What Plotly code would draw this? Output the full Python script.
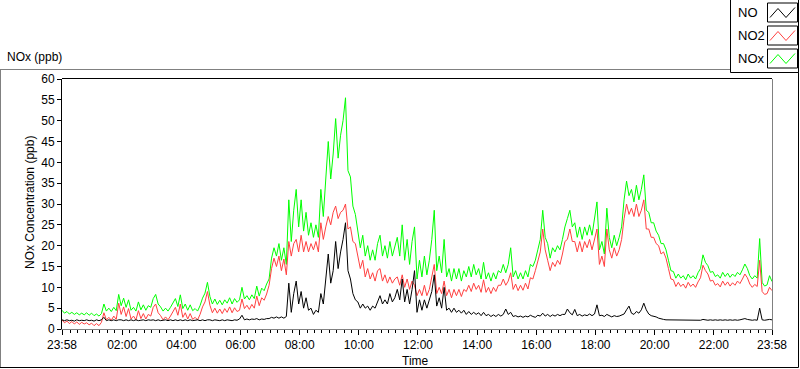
import pandas as pd
import plotly.graph_objects as go

# ---- data (5-minute samples starting at 23:58) ----
start_time = "2023-01-01 23:58"
n_points = 289

nox_ppb = [
    4.5, 3.8, 4.2, 3.6, 4.0, 3.5, 3.9, 3.4, 3.8, 3.4, 3.9, 3.3,
    3.8, 3.2, 3.6, 3.1, 3.7, 6.0, 4.3, 5.0, 4.2, 5.2, 4.4, 8.3,
    5.6, 7.4, 5.2, 7.0, 4.5, 5.2, 4.3, 6.5, 4.6, 5.8, 4.5, 5.6,
    5.2, 7.3, 8.3, 6.0, 5.3, 4.3, 5.0, 4.3, 5.2, 6.3, 7.3, 5.4,
    8.2, 4.9, 6.0, 4.5, 5.8, 4.4, 4.9, 4.3, 5.6, 7.4, 8.6, 11.2,
    7.8, 6.0, 7.2, 5.9, 6.9, 5.8, 7.0, 6.2, 7.5, 6.0, 7.3, 6.4,
    7.0, 10.0, 7.2, 8.0, 7.0, 8.2, 7.3, 10.3, 7.9, 9.8, 9.2, 10.8,
    12.0, 17.0, 19.5, 17.5, 20.5, 16.5, 19.5, 15.5, 31.0, 21.0, 28.5, 33.5,
    24.5, 31.0, 23.5, 28.0, 22.5, 25.5, 22.0, 25.0, 22.0, 33.5, 27.0, 36.0,
    45.0, 36.0, 42.0, 50.5, 41.0, 46.5, 50.0, 55.5, 38.0, 36.5, 29.5, 27.5,
    23.0, 19.5, 22.5, 17.5, 20.0, 16.5, 19.0, 16.5, 20.5, 22.5, 17.5, 20.0,
    17.0, 21.0, 17.5, 19.5, 22.0, 17.5, 25.0, 16.5, 21.5, 15.5, 21.0, 24.5,
    12.0, 16.5, 12.5, 17.5, 13.0, 16.5, 21.5, 28.5, 14.0, 17.5, 13.5, 21.5,
    12.5, 14.5, 11.5, 14.5, 12.0, 14.5, 11.5, 14.0, 12.5, 15.0, 12.5, 15.5,
    13.0, 14.5, 12.0, 16.0, 12.0, 13.5, 11.5, 13.5, 12.0, 14.0, 13.5, 15.5,
    13.5, 15.5, 19.5, 12.5, 14.0, 12.0, 13.5, 12.0, 14.0, 12.5, 15.5, 15.0,
    16.5, 19.0, 21.5, 28.5, 22.0, 20.5, 17.0, 19.5, 18.5, 20.0, 19.0, 21.5,
    24.5, 26.5, 28.5, 24.5, 25.5, 22.0, 24.5, 21.5, 24.5, 22.5, 25.0, 22.5,
    26.5, 30.5, 19.0, 21.0, 18.0, 29.0, 22.0, 19.5, 22.5, 20.0, 22.0, 24.5,
    31.0, 35.5, 32.0, 33.5, 30.5, 34.5, 31.0, 33.5, 37.0, 28.5, 28.0, 25.5,
    25.5, 23.5, 22.5, 20.5, 20.5, 19.0, 16.5, 14.0, 13.8, 12.2, 13.2, 12.2,
    12.8, 11.8, 13.2, 12.2, 12.8, 12.0, 13.5, 14.5, 17.8, 16.0, 15.2, 13.6,
    13.8, 12.6, 13.0, 12.2, 13.6, 12.6, 13.4, 12.4, 13.2, 12.6, 13.6, 13.0,
    14.2, 15.6, 14.5, 12.8, 12.0, 12.8, 12.2, 21.7, 11.2, 10.3, 10.6, 12.8,
    11.4,
]

no2_ppb = [
    2.2, 1.5, 1.9, 1.3, 1.8, 1.2, 1.7, 1.1, 1.6, 1.2, 1.5, 1.0,
    1.4, 0.8, 1.3, 0.8, 1.6, 3.9, 2.2, 2.8, 2.1, 3.1, 2.3, 6.2,
    3.5, 5.3, 3.0, 4.9, 2.4, 3.1, 2.2, 4.4, 2.5, 3.7, 2.4, 3.5,
    3.1, 5.2, 6.0, 3.9, 3.2, 2.2, 2.9, 2.2, 3.1, 4.2, 5.2, 3.3,
    6.0, 2.8, 3.9, 2.4, 3.7, 2.3, 2.8, 2.2, 3.5, 5.3, 6.5, 9.0,
    5.7, 3.9, 5.0, 3.8, 4.8, 3.7, 4.9, 4.0, 5.3, 3.9, 5.1, 4.2,
    4.5, 7.2, 4.9, 5.7, 4.7, 5.9, 5.0, 7.9, 5.6, 7.5, 6.9, 8.4,
    10.5, 14.5, 17.0, 15.0, 17.5, 14.0, 16.8, 13.0, 21.0, 17.5, 20.5, 21.5,
    18.5, 22.5, 18.5, 21.0, 18.5, 20.5, 19.0, 21.0, 18.5, 25.5, 21.5, 24.5,
    27.0, 25.0, 28.0, 29.5, 26.5, 28.0, 28.5, 30.0, 24.0, 24.5, 21.0, 20.5,
    17.0, 14.5, 16.5, 12.5, 14.5, 12.0, 13.5, 11.5, 14.0, 14.5, 11.5, 13.0,
    11.0, 12.5, 11.0, 12.0, 12.5, 10.5, 13.0, 10.0, 12.0, 9.5, 11.5, 10.5,
    8.0, 9.5, 8.0, 10.5, 8.0, 9.5, 12.5, 15.5, 8.5, 10.0, 8.5, 11.5,
    8.0, 9.5, 7.5, 9.5, 8.0, 9.5, 7.8, 9.5, 9.0, 10.5, 9.0, 11.0,
    9.5, 10.5, 8.8, 11.8, 8.8, 10.0, 8.5, 10.0, 9.0, 10.5, 10.5, 12.0,
    10.5, 11.5, 13.5, 9.5, 10.8, 9.2, 10.5, 9.3, 11.0, 9.6, 12.3, 12.0,
    14.0, 16.5, 18.5, 24.0, 19.0, 16.5, 14.0, 16.0, 15.0, 16.5, 15.5, 18.0,
    21.0, 21.5, 24.0, 21.0, 21.0, 18.5, 21.0, 18.5, 21.0, 19.5, 21.5, 19.0,
    21.5, 24.0, 15.5, 17.5, 15.0, 24.0, 19.0, 17.0, 19.5, 17.5, 19.0, 21.5,
    26.5, 30.0, 27.5, 29.0, 27.0, 30.0, 27.0, 28.5, 31.0, 24.0, 24.0, 22.0,
    22.0, 20.5, 20.0, 18.0, 18.5, 17.0, 14.5, 12.0, 11.8, 10.2, 11.2, 10.2,
    10.8, 9.8, 11.2, 10.2, 10.8, 10.0, 11.3, 12.3, 15.3, 14.0, 13.2, 11.5,
    11.7, 10.5, 10.9, 10.1, 11.5, 10.5, 11.3, 10.3, 11.1, 10.5, 11.5, 10.9,
    12.0, 13.2, 12.3, 10.8, 10.0, 10.7, 10.2, 16.5, 9.0, 8.3, 8.5, 10.0,
    9.2,
]

no_ppb = [
    2.2, 2.0, 2.2, 2.0, 2.1, 1.9, 2.2, 2.0, 2.1, 2.0, 2.2, 2.0,
    2.1, 1.9, 2.2, 2.0, 2.2, 2.8, 2.0, 2.2, 2.0, 2.2, 2.0, 2.2,
    2.2, 2.0, 2.2, 2.0, 2.2, 2.0, 2.2, 2.0, 2.1, 2.2, 2.0, 2.2,
    2.1, 2.2, 2.0, 2.2, 2.0, 2.1, 2.2, 2.0, 2.2, 2.0, 2.2, 2.0,
    2.2, 2.0, 2.2, 2.0, 2.2, 2.0, 2.1, 2.2, 2.0, 2.2, 2.0, 2.2,
    2.2, 2.0, 2.2, 2.1, 2.0, 2.2, 2.0, 2.2, 2.1, 2.0, 2.2, 2.1,
    2.4, 3.3, 2.2, 2.4, 2.2, 2.4, 2.3, 2.5, 2.2, 2.4, 2.3, 2.5,
    2.5, 2.8, 2.6, 2.9, 2.6, 2.9, 2.6, 3.0, 11.0, 4.0, 8.5, 11.5,
    6.0, 9.0, 5.0, 7.5, 4.5, 5.0, 3.5, 4.5, 4.0, 8.5, 6.0, 11.5,
    18.0, 11.0, 14.0, 21.0, 14.5, 18.5, 21.5, 25.5, 14.0, 12.0, 8.5, 7.0,
    6.5, 5.0, 6.0, 5.0, 5.5, 4.5, 5.5, 5.0, 6.5, 8.0, 6.0, 7.0,
    6.0, 8.5, 6.5, 7.5, 9.5, 7.0, 12.0, 6.5, 9.5, 6.0, 9.5, 14.0,
    4.0, 7.0, 4.5, 7.0, 5.0, 7.0, 9.0, 13.0, 5.5, 7.5, 5.0, 10.0,
    4.5, 5.0, 4.0, 5.0, 4.0, 4.5, 3.8, 4.5, 3.5, 4.2, 3.5, 4.0,
    3.5, 3.9, 3.2, 4.0, 3.2, 3.5, 3.0, 3.4, 3.0, 3.5, 3.1, 3.5,
    4.8, 3.5, 4.0, 3.0, 3.2, 2.9, 3.1, 2.8, 3.1, 2.9, 3.3, 3.0,
    2.8, 3.3, 3.1, 3.8, 3.1, 3.5, 3.0, 3.4, 3.1, 3.5, 3.2, 3.5,
    3.5, 4.8, 3.9, 3.4, 4.7, 3.2, 3.5, 3.1, 3.4, 3.2, 3.6, 3.2,
    3.6, 5.8, 3.2, 3.3, 3.0, 3.5, 3.2, 2.9, 3.2, 3.0, 3.1, 3.3,
    3.6, 4.6, 5.5, 3.8, 3.5, 4.2, 3.8, 4.6, 6.2, 4.6, 3.6, 3.2,
    3.1, 2.9, 2.6, 2.4, 2.3, 2.2, 2.2, 2.1, 2.2, 2.2, 2.1, 2.2,
    2.1, 2.2, 2.1, 2.2, 2.1, 2.2, 2.2, 2.1, 2.3, 2.2, 2.1, 2.2,
    2.1, 2.2, 2.1, 2.2, 2.1, 2.2, 2.1, 2.2, 2.1, 2.2, 2.1, 2.2,
    2.3, 2.5, 2.3, 2.2, 2.1, 2.2, 2.1, 5.0, 2.2, 2.1, 2.2, 2.3,
    2.2,
]

tick_labels = ["23:58", "02:00", "04:00", "06:00", "08:00", "10:00",
               "12:00", "14:00", "16:00", "18:00", "20:00", "22:00", "23:58"]
tick_times = ["2023-01-01 23:58", "2023-01-02 02:00", "2023-01-02 04:00",
              "2023-01-02 06:00", "2023-01-02 08:00", "2023-01-02 10:00",
              "2023-01-02 12:00", "2023-01-02 14:00", "2023-01-02 16:00",
              "2023-01-02 18:00", "2023-01-02 20:00", "2023-01-02 22:00",
              "2023-01-02 23:58"]

series_names = ["NO", "NO2", "NOx"]
series_colors = ["#000000", "#FF4040", "#00FF00"]

times = pd.date_range(start=start_time, periods=n_points, freq="5min")

# ---- layout geometry (pixels) ----
W, H = 800, 369
L, R, T, B = 62, 772, 79, 329
FONT = "Liberation Sans"


def px(x):
    return (x - L) / (R - L)


def py(y):
    return (B - y) / (B - T)


fig = go.Figure()
for name, vals, col in [("NOx", nox_ppb, series_colors[2]),
                        ("NO2", no2_ppb, series_colors[1]),
                        ("NO", no_ppb, series_colors[0])]:
    fig.add_trace(go.Scatter(x=times, y=vals, mode="lines", name=name,
                             line=dict(color=col, width=1), showlegend=False))

shapes = []


def hline(x0, x1, y, color):
    shapes.append(dict(type="line", xref="paper", yref="paper",
                       x0=px(x0), x1=px(x1), y0=py(y), y1=py(y),
                       line=dict(color=color, width=1)))


def vline(x, y0, y1, color):
    shapes.append(dict(type="line", xref="paper", yref="paper",
                       x0=px(x), x1=px(x), y0=py(y0), y1=py(y1),
                       line=dict(color=color, width=1)))


# outer frame
hline(0, 798, 69.5, "#808080")
vline(0.5, 69.5, 367.5, "#808080")
vline(798.5, 69.5, 367.5, "#000000")
hline(0, 798.5, 367.5, "#000000")
# plot frame top / right
hline(L, R, T - 0.5, "#000000")
vline(R + 0.5, T, B + 1, "#808080")

# legend box
shapes.append(dict(type="rect", xref="paper", yref="paper",
                   x0=px(730.5), x1=px(798.5), y0=py(72.5), y1=py(-1),
                   line=dict(color="#000000", width=1), fillcolor="#FFFFFF"))
legend_rows = [12.5, 35.5, 58.5]
for name, col, yc in zip(series_names, series_colors, legend_rows):
    shapes.append(dict(type="rect", xref="paper", yref="paper",
                       x0=px(767.5), x1=px(797.5), y0=py(yc + 9.5), y1=py(yc - 9.5),
                       line=dict(color="#000000", width=1), fillcolor="#FFFFFF"))
    pts = [(770, yc + 5), (778, yc - 4), (786, yc + 5), (795, yc - 5)]
    path = "M " + " L ".join(f"{px(a):.5f},{py(b):.5f}" for a, b in pts)
    shapes.append(dict(type="path", xref="paper", yref="paper", path=path,
                       line=dict(color=col, width=1)))

annotations = []
for name, yc in zip(series_names, legend_rows):
    annotations.append(dict(xref="paper", yref="paper", x=px(736), y=py(yc),
                            xanchor="left", yanchor="middle", showarrow=False,
                            text=name, font=dict(family=FONT, size=13, color="#000000")))

annotations.append(dict(xref="paper", yref="paper", x=px(5), y=py(57),
                        xanchor="left", yanchor="middle", showarrow=False,
                        text="NOx (ppb)", font=dict(family=FONT, size=12, color="#000000")))
annotations.append(dict(xref="paper", yref="paper", x=px(30), y=py(203),
                        xanchor="center", yanchor="middle", showarrow=False, textangle=-90,
                        text="NOx Concentration (ppb)",
                        font=dict(family=FONT, size=12, color="#000000")))
annotations.append(dict(xref="paper", yref="paper", x=px(415), y=py(361),
                        xanchor="center", yanchor="middle", showarrow=False,
                        text="Time", font=dict(family=FONT, size=12, color="#000000")))

fig.update_layout(
    width=W, height=H,
    margin=dict(l=L, r=W - R, t=T, b=H - B, pad=0),
    paper_bgcolor="#FFFFFF", plot_bgcolor="#FFFFFF",
    font=dict(family=FONT, size=12, color="#000000"),
    shapes=shapes, annotations=annotations, showlegend=False,
    xaxis=dict(
        type="date",
        range=[tick_times[0], tick_times[-1]],
        tickvals=tick_times, ticktext=tick_labels,
        ticks="outside", ticklen=5, tickcolor="#000000", tickwidth=1,
        showgrid=False, zeroline=False,
        showline=True, linecolor="#808080", linewidth=1,
        tickfont=dict(family=FONT, size=12, color="#000000"),
        minor=dict(ticks="outside", ticklen=3, tickcolor="#000000",
                   dtick=15 * 60 * 1000, tick0="2023-01-02 00:00", showgrid=False),
    ),
    yaxis=dict(
        range=[0, 60], dtick=5, tick0=0,
        ticks="outside", ticklen=4, tickcolor="#000000", tickwidth=1,
        showgrid=False, zeroline=False,
        showline=True, linecolor="#000000", linewidth=1,
        tickfont=dict(family=FONT, size=12, color="#000000"),
    ),
)

fig.write_html(
    "out.html",
    config={"displayModeBar": False},
    post_script="document.body.style.margin='0';document.body.style.padding='0';"
                "document.body.style.overflow='hidden';",
)
